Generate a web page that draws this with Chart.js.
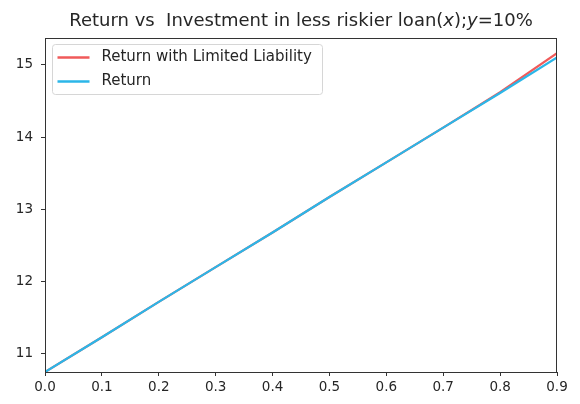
<!DOCTYPE html>
<html>
<head>
<meta charset="utf-8">
<script src="https://cdn.jsdelivr.net/npm/chart.js@4.4.0/dist/chart.umd.min.js"></script>
<style>
  html, body { margin: 0; padding: 0; background: #fff; }
  #wrap { width: 580px; height: 404px; position: relative; }
</style>
</head>
<body>
<div id="wrap"><canvas id="c" width="580" height="404"></canvas></div>
<script>
const xValues = [0.0, 0.1, 0.2, 0.3, 0.4, 0.5, 0.6, 0.7, 0.8, 0.9];
const returnLimited = [10.75, 11.23, 11.72, 12.20, 12.68, 13.17, 13.65, 14.13, 14.62, 15.16];
const returnPlain   = [10.75, 11.23, 11.72, 12.20, 12.68, 13.17, 13.65, 14.13, 14.61, 15.10];
const yTicks = [11, 12, 13, 14, 15];
const xTicks = [0.0, 0.1, 0.2, 0.3, 0.4, 0.5, 0.6, 0.7, 0.8, 0.9];
const seriesLabels = ['Return with Limited Liability', 'Return'];
const titleParts = [
  ['Return vs  Investment in less riskier loan(', false],
  ['x', true],
  [');', false],
  ['y', true],
  ['=10%', false]
];

const FONT = "'DejaVu Sans', sans-serif";
const RED = '#f05a5a';
const BLUE = '#2bb6e8';
const TEXT = '#262626';

const framePlugin = {
  id: 'frame',
  afterDraw(chart) {
    const {ctx, chartArea: a} = chart;
    ctx.save();
    ctx.strokeStyle = '#333';
    ctx.lineWidth = 1;
    ctx.strokeRect(Math.round(a.left) + 0.5, Math.round(a.top) + 0.5,
                   Math.round(a.right - a.left) - 1, Math.round(a.bottom - a.top));
    // title
    ctx.fillStyle = TEXT;
    ctx.textBaseline = 'alphabetic';
    const size = 18;
    const fontFor = it => (it ? 'oblique ' : '') + size + 'px ' + FONT;
    let total = 0;
    titleParts.forEach(([t, it]) => { ctx.font = fontFor(it); total += ctx.measureText(t).width; });
    let x = (a.left + a.right) / 2 - total / 2;
    const y = 26;
    titleParts.forEach(([t, it]) => {
      ctx.font = fontFor(it);
      ctx.fillText(t, x, y);
      x += ctx.measureText(t).width;
    });
    // legend
    const lx = a.left + 7.5, ly = a.top + 6.5, lw = 270, lh = 50;
    ctx.beginPath();
    const r = 3;
    ctx.moveTo(lx + r, ly);
    ctx.arcTo(lx + lw, ly, lx + lw, ly + lh, r);
    ctx.arcTo(lx + lw, ly + lh, lx, ly + lh, r);
    ctx.arcTo(lx, ly + lh, lx, ly, r);
    ctx.arcTo(lx, ly, lx + lw, ly, r);
    ctx.closePath();
    ctx.fillStyle = 'rgba(255,255,255,0.8)';
    ctx.fill();
    ctx.strokeStyle = '#d6d6d6';
    ctx.lineWidth = 1;
    ctx.stroke();
    ctx.font = '15px ' + FONT;
    ctx.textBaseline = 'middle';
    chart.data.datasets.forEach((ds, i) => {
      const yy = ly + 13 + i * 24;
      ctx.strokeStyle = ds.borderColor;
      ctx.lineWidth = 2.5;
      ctx.beginPath();
      ctx.moveTo(lx + 5, yy);
      ctx.lineTo(lx + 37, yy);
      ctx.stroke();
      ctx.fillStyle = TEXT;
      ctx.fillText(ds.label, lx + 49, yy);
    });
    ctx.restore();
  }
};

new Chart(document.getElementById('c'), {
  type: 'line',
  data: {
    datasets: [
      { label: seriesLabels[0], data: xValues.map((x, i) => ({x, y: returnLimited[i]})),
        borderColor: RED, borderWidth: 2.2, pointRadius: 0, tension: 0, order: 2 },
      { label: seriesLabels[1], data: xValues.map((x, i) => ({x, y: returnPlain[i]})),
        borderColor: BLUE, borderWidth: 2.2, pointRadius: 0, tension: 0, order: 1 }
    ]
  },
  options: {
    responsive: false,
    animation: false,
    layout: { padding: { top: 38, right: 23, left: 0, bottom: 0 } },
    plugins: { legend: { display: false }, title: { display: false }, tooltip: { enabled: false } },
    scales: {
      x: {
        type: 'linear', min: 0, max: 0.9,
        afterBuildTicks: s => { s.ticks = xTicks.map(v => ({value: v})); },
        afterFit: s => { s.height = 32; },
        ticks: { color: TEXT, font: { family: FONT, size: 13.5 }, padding: 3, maxRotation: 0,
                 callback: v => Number(v).toFixed(1) },
        grid: { display: true, drawOnChartArea: false, drawTicks: true, tickLength: 4, color: '#333' },
        border: { display: true, color: '#333' }
      },
      y: {
        type: 'linear', min: 10.75, max: 15.37,
        afterBuildTicks: s => { s.ticks = yTicks.map(v => ({value: v})); },
        afterFit: s => { s.width = 45; },
        ticks: { color: TEXT, font: { family: FONT, size: 13.5 }, padding: 8,
                 callback: v => String(v) },
        grid: { display: true, drawOnChartArea: false, drawTicks: true, tickLength: 4, color: '#333' },
        border: { display: true, color: '#333' }
      }
    }
  },
  plugins: [framePlugin]
});
</script>
</body>
</html>
